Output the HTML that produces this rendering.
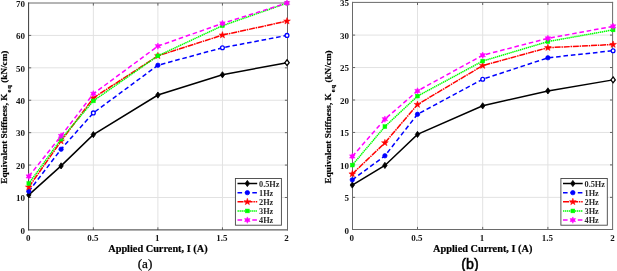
<!DOCTYPE html>
<html><head><meta charset="utf-8"><style>
html,body{margin:0;padding:0;background:#fff;}
body{width:617px;height:271px;overflow:hidden;}
svg{display:block;will-change:transform;}
.t{font-family:"Liberation Serif",serif;font-weight:bold;font-size:9.0px;fill:#151515;}
</style></head><body>
<svg width="617" height="271" viewBox="0 0 617 271">
<rect width="617" height="271" fill="#fff"/>
<path d="M93.35,3.0V229.9M157.90,3.0V229.9M222.45,3.0V229.9M28.6,197.49H287.5M28.6,165.07H287.5M28.6,132.66H287.5M28.6,100.24H287.5M28.6,67.83H287.5M28.6,35.42H287.5" stroke="#e2e2e2" stroke-width="1" fill="none"/>
<path d="M93.35,229.9v-2.6M93.35,3.0v2.6M157.90,229.9v-2.6M157.90,3.0v2.6M222.45,229.9v-2.6M222.45,3.0v2.6M28.6,197.49h2.6M287.5,197.49h-2.6M28.6,165.07h2.6M287.5,165.07h-2.6M28.6,132.66h2.6M287.5,132.66h-2.6M28.6,100.24h2.6M287.5,100.24h-2.6M28.6,67.83h2.6M287.5,67.83h-2.6M28.6,35.42h2.6M287.5,35.42h-2.6" stroke="#555" stroke-width="0.9" fill="none"/>
<path d="M28.10,3.00H288.00" fill="none" stroke="#6a6a6a" stroke-width="1"/>
<path d="M28.10,229.90H288.00" fill="none" stroke="#3a3a3a" stroke-width="1"/>
<path d="M28.60,2.50V230.40" fill="none" stroke="#3a3a3a" stroke-width="1"/>
<path d="M287.50,2.50V230.40" fill="none" stroke="#686868" stroke-width="1"/>
<polyline points="28.80,194.89 61.08,165.88 93.35,134.60 157.90,95.06 222.45,74.80 287.00,62.64" fill="none" stroke="#000000" stroke-width="1.5"/>
<path d="M28.80,191.79 L31.00,194.89 L28.80,197.99 L26.60,194.89Z" fill="#000000" stroke="#000000" stroke-width="0.8"/>
<path d="M61.08,162.78 L63.28,165.88 L61.08,168.98 L58.88,165.88Z" fill="#000000" stroke="#000000" stroke-width="0.8"/>
<path d="M93.35,131.50 L95.55,134.60 L93.35,137.70 L91.15,134.60Z" fill="#000000" stroke="#000000" stroke-width="0.8"/>
<path d="M157.90,91.96 L160.10,95.06 L157.90,98.16 L155.70,95.06Z" fill="#000000" stroke="#000000" stroke-width="0.8"/>
<path d="M222.45,71.70 L224.65,74.80 L222.45,77.90 L220.25,74.80Z" fill="#000000" stroke="#000000" stroke-width="0.8"/>
<path d="M287.00,59.74 L289.20,62.64 L287.00,65.54 L284.80,62.64Z" fill="#fff" stroke="#000000" stroke-width="1.3"/>
<polyline points="28.80,191.33 61.08,149.19 93.35,112.89 157.90,65.24 222.45,47.73 287.00,35.42" fill="none" stroke="#0000ff" stroke-width="1.5" stroke-dasharray="4.6 2.8"/>
<circle cx="28.80" cy="191.33" r="2.2" fill="#0000ff" stroke="#0000ff" stroke-width="0.7"/>
<circle cx="61.08" cy="149.19" r="2.2" fill="#0000ff" stroke="#0000ff" stroke-width="0.7"/>
<circle cx="93.35" cy="112.89" r="1.9" fill="#fff" stroke="#0000ff" stroke-width="1.3"/>
<circle cx="157.90" cy="65.24" r="2.2" fill="#0000ff" stroke="#0000ff" stroke-width="0.7"/>
<circle cx="222.45" cy="47.73" r="1.9" fill="#fff" stroke="#0000ff" stroke-width="1.3"/>
<circle cx="287.00" cy="35.42" r="1.9" fill="#fff" stroke="#0000ff" stroke-width="1.3"/>
<polyline points="28.80,187.11 61.08,141.09 93.35,97.98 157.90,55.84 222.45,35.09 287.00,21.15" fill="none" stroke="#ff0000" stroke-width="1.5" stroke-dasharray="6 0.8 1.5 0.8"/>
<path d="M28.80,183.56 L29.65,185.94 L32.18,186.02 L30.18,187.56 L30.89,189.99 L28.80,188.56 L26.71,189.99 L27.42,187.56 L25.42,186.02 L27.95,185.94Z" fill="#ff0000" stroke="#ff0000" stroke-width="0.5"/>
<path d="M61.08,137.54 L61.93,139.91 L64.45,139.99 L62.45,141.53 L63.16,143.96 L61.08,142.54 L58.99,143.96 L59.70,141.53 L57.70,139.99 L60.22,139.91Z" fill="#ff0000" stroke="#ff0000" stroke-width="0.5"/>
<path d="M93.35,94.43 L94.20,96.80 L96.73,96.88 L94.73,98.42 L95.44,100.85 L93.35,99.43 L91.26,100.85 L91.97,98.42 L89.97,96.88 L92.50,96.80Z" fill="#ff0000" stroke="#ff0000" stroke-width="0.5"/>
<path d="M157.90,52.29 L158.75,54.66 L161.28,54.74 L159.28,56.28 L159.99,58.71 L157.90,57.29 L155.81,58.71 L156.52,56.28 L154.52,54.74 L157.05,54.66Z" fill="#ff0000" stroke="#ff0000" stroke-width="0.5"/>
<path d="M222.45,31.54 L223.30,33.92 L225.83,33.99 L223.83,35.54 L224.54,37.96 L222.45,36.54 L220.36,37.96 L221.07,35.54 L219.07,33.99 L221.60,33.92Z" fill="#ff0000" stroke="#ff0000" stroke-width="0.5"/>
<path d="M287.00,17.60 L287.85,19.98 L290.38,20.06 L288.38,21.60 L289.09,24.03 L287.00,22.60 L284.91,24.03 L285.62,21.60 L283.62,20.06 L286.15,19.98Z" fill="#ff0000" stroke="#ff0000" stroke-width="0.5"/>
<polyline points="28.80,183.55 61.08,139.14 93.35,100.89 157.90,55.84 222.45,25.69 287.00,3.16" fill="none" stroke="#00ff00" stroke-width="1.5" stroke-dasharray="1.4 0.6"/>
<rect x="26.90" y="181.65" width="3.80" height="3.80" fill="#00ff00" stroke="#00ff00" stroke-width="0.5"/>
<rect x="59.18" y="137.24" width="3.80" height="3.80" fill="#00ff00" stroke="#00ff00" stroke-width="0.5"/>
<rect x="91.45" y="98.99" width="3.80" height="3.80" fill="#00ff00" stroke="#00ff00" stroke-width="0.5"/>
<rect x="156.00" y="53.94" width="3.80" height="3.80" fill="#00ff00" stroke="#00ff00" stroke-width="0.5"/>
<rect x="220.55" y="23.79" width="3.80" height="3.80" fill="#00ff00" stroke="#00ff00" stroke-width="0.5"/>
<rect x="285.10" y="1.26" width="3.80" height="3.80" fill="#00ff00" stroke="#00ff00" stroke-width="0.5"/>
<polyline points="28.80,176.42 61.08,135.90 93.35,93.76 157.90,46.11 222.45,23.42 287.00,3.00" fill="none" stroke="#ff00ff" stroke-width="1.5" stroke-dasharray="4.6 2.8"/>
<path d="M28.80,173.22 L29.65,174.94 L31.57,174.82 L30.50,176.42 L31.57,178.02 L29.65,177.89 L28.80,179.62 L27.95,177.89 L26.03,178.02 L27.10,176.42 L26.03,174.82 L27.95,174.94Z" fill="#ff00ff" stroke="#ff00ff" stroke-width="0.5"/>
<path d="M61.08,132.70 L61.93,134.43 L63.85,134.30 L62.78,135.90 L63.85,137.50 L61.93,137.37 L61.08,139.10 L60.23,137.37 L58.30,137.50 L59.38,135.90 L58.30,134.30 L60.23,134.43Z" fill="#ff00ff" stroke="#ff00ff" stroke-width="0.5"/>
<path d="M93.35,90.56 L94.20,92.29 L96.12,92.16 L95.05,93.76 L96.12,95.36 L94.20,95.23 L93.35,96.96 L92.50,95.23 L90.58,95.36 L91.65,93.76 L90.58,92.16 L92.50,92.29Z" fill="#ff00ff" stroke="#ff00ff" stroke-width="0.5"/>
<path d="M157.90,42.91 L158.75,44.64 L160.67,44.51 L159.60,46.11 L160.67,47.71 L158.75,47.58 L157.90,49.31 L157.05,47.58 L155.13,47.71 L156.20,46.11 L155.13,44.51 L157.05,44.64Z" fill="#ff00ff" stroke="#ff00ff" stroke-width="0.5"/>
<path d="M222.45,20.22 L223.30,21.95 L225.22,21.82 L224.15,23.42 L225.22,25.02 L223.30,24.90 L222.45,26.62 L221.60,24.90 L219.68,25.02 L220.75,23.42 L219.68,21.82 L221.60,21.95Z" fill="#ff00ff" stroke="#ff00ff" stroke-width="0.5"/>
<path d="M287.00,-0.20 L287.85,1.53 L289.77,1.40 L288.70,3.00 L289.77,4.60 L287.85,4.47 L287.00,6.20 L286.15,4.47 L284.23,4.60 L285.30,3.00 L284.23,1.40 L286.15,1.53Z" fill="#ff00ff" stroke="#ff00ff" stroke-width="0.5"/>
<text x="25.00" y="233.60" text-anchor="end" class="t">0</text>
<text x="25.00" y="201.19" text-anchor="end" class="t">10</text>
<text x="25.00" y="168.77" text-anchor="end" class="t">20</text>
<text x="25.00" y="136.36" text-anchor="end" class="t">30</text>
<text x="25.00" y="103.94" text-anchor="end" class="t">40</text>
<text x="25.00" y="71.53" text-anchor="end" class="t">50</text>
<text x="25.00" y="39.12" text-anchor="end" class="t">60</text>
<text x="25.00" y="6.70" text-anchor="end" class="t">70</text>
<text x="28.20" y="240.9" text-anchor="middle" class="t">0</text>
<text x="92.75" y="240.9" text-anchor="middle" class="t">0.5</text>
<text x="157.30" y="240.9" text-anchor="middle" class="t">1</text>
<text x="221.85" y="240.9" text-anchor="middle" class="t">1.5</text>
<text x="286.40" y="240.9" text-anchor="middle" class="t">2</text>
<text x="157.90" y="252" text-anchor="middle" class="t" style="font-size:10.3px;fill:#000;stroke:#000;stroke-width:0.2px">Applied Current, I (A)</text>
<text transform="translate(7.00,117.15) rotate(-90)" text-anchor="middle" class="t" style="font-size:9.2px;fill:#000;stroke:#000;stroke-width:0.2px">Equivalent Stiffness, K<tspan dx="1.2" dy="3.7" font-size="6.6" letter-spacing="0.7">eq</tspan><tspan dy="-3.7" dx="-0.7"> (kN/cm)</tspan></text>
<text x="145.00" y="268.40" text-anchor="middle" style="font-family:'Liberation Serif', serif;font-size:13.2px;font-weight:normal;stroke:#000;stroke-width:0.25px">(a)</text>
<rect x="235.40" y="178.50" width="46.00" height="46.70" fill="#fff" stroke="#444" stroke-width="0.9"/>
<path d="M237.50,183.50H257.20" stroke="#000000" stroke-width="1.5" fill="none"/>
<path d="M247.35,180.40 L249.55,183.50 L247.35,186.60 L245.15,183.50Z" fill="#000000" stroke="#000000" stroke-width="0.8"/>
<text x="259.00" y="186.80" class="t" style="font-size:8.3px;fill:#2a2a2a">0.5Hz</text>
<path d="M237.50,192.65H257.20" stroke="#0000ff" stroke-width="1.5" stroke-dasharray="4.6 2.8" fill="none"/>
<circle cx="247.35" cy="192.65" r="2.2" fill="#0000ff" stroke="#0000ff" stroke-width="0.7"/>
<text x="259.00" y="195.95" class="t" style="font-size:8.3px;fill:#2a2a2a">1Hz</text>
<path d="M237.50,201.80H257.20" stroke="#ff0000" stroke-width="1.5" stroke-dasharray="6 0.8 1.5 0.8" fill="none"/>
<path d="M247.35,198.25 L248.20,200.63 L250.73,200.70 L248.73,202.25 L249.44,204.67 L247.35,203.25 L245.26,204.67 L245.97,202.25 L243.97,200.70 L246.50,200.63Z" fill="#ff0000" stroke="#ff0000" stroke-width="0.5"/>
<text x="259.00" y="205.10" class="t" style="font-size:8.3px;fill:#2a2a2a">2Hz</text>
<path d="M237.50,210.95H257.20" stroke="#00ff00" stroke-width="1.5" stroke-dasharray="1.4 0.6" fill="none"/>
<rect x="245.45" y="209.05" width="3.80" height="3.80" fill="#00ff00" stroke="#00ff00" stroke-width="0.5"/>
<text x="259.00" y="214.25" class="t" style="font-size:8.3px;fill:#2a2a2a">3Hz</text>
<path d="M237.50,220.10H257.20" stroke="#ff00ff" stroke-width="1.5" stroke-dasharray="4.6 2.8" fill="none"/>
<path d="M247.35,216.90 L248.20,218.63 L250.12,218.50 L249.05,220.10 L250.12,221.70 L248.20,221.57 L247.35,223.30 L246.50,221.57 L244.58,221.70 L245.65,220.10 L244.58,218.50 L246.50,218.63Z" fill="#ff00ff" stroke="#ff00ff" stroke-width="0.5"/>
<text x="259.00" y="223.40" class="t" style="font-size:8.3px;fill:#2a2a2a">4Hz</text>
<path d="M417.50,2.4V229.5M482.70,2.4V229.5M547.90,2.4V229.5M352.5,197.35H612.6M352.5,164.90H612.6M352.5,132.45H612.6M352.5,100.00H612.6M352.5,67.55H612.6M352.5,35.10H612.6" stroke="#e2e2e2" stroke-width="1" fill="none"/>
<path d="M417.50,229.5v-2.6M417.50,2.4v2.6M482.70,229.5v-2.6M482.70,2.4v2.6M547.90,229.5v-2.6M547.90,2.4v2.6M352.5,197.35h2.6M612.6,197.35h-2.6M352.5,164.90h2.6M612.6,164.90h-2.6M352.5,132.45h2.6M612.6,132.45h-2.6M352.5,100.00h2.6M612.6,100.00h-2.6M352.5,67.55h2.6M612.6,67.55h-2.6M352.5,35.10h2.6M612.6,35.10h-2.6" stroke="#555" stroke-width="0.9" fill="none"/>
<path d="M352.00,2.40H613.10" fill="none" stroke="#6a6a6a" stroke-width="1"/>
<path d="M352.00,229.50H613.10" fill="none" stroke="#6a6a6a" stroke-width="1"/>
<path d="M352.50,1.90V230.00" fill="none" stroke="#6a6a6a" stroke-width="1"/>
<path d="M612.60,1.90V230.00" fill="none" stroke="#6a6a6a" stroke-width="1"/>
<polyline points="352.30,185.02 384.90,165.42 417.50,134.40 482.70,105.84 547.90,90.91 613.10,79.88" fill="none" stroke="#000000" stroke-width="1.5"/>
<path d="M352.30,181.92 L354.50,185.02 L352.30,188.12 L350.10,185.02Z" fill="#000000" stroke="#000000" stroke-width="0.8"/>
<path d="M384.90,162.32 L387.10,165.42 L384.90,168.52 L382.70,165.42Z" fill="#000000" stroke="#000000" stroke-width="0.8"/>
<path d="M417.50,131.30 L419.70,134.40 L417.50,137.50 L415.30,134.40Z" fill="#000000" stroke="#000000" stroke-width="0.8"/>
<path d="M482.70,102.74 L484.90,105.84 L482.70,108.94 L480.50,105.84Z" fill="#000000" stroke="#000000" stroke-width="0.8"/>
<path d="M547.90,87.81 L550.10,90.91 L547.90,94.01 L545.70,90.91Z" fill="#000000" stroke="#000000" stroke-width="0.8"/>
<path d="M613.10,76.98 L615.30,79.88 L613.10,82.78 L610.90,79.88Z" fill="#fff" stroke="#000000" stroke-width="1.3"/>
<polyline points="352.30,179.83 384.90,155.81 417.50,114.28 482.70,79.23 547.90,57.81 613.10,50.68" fill="none" stroke="#0000ff" stroke-width="1.5" stroke-dasharray="4.6 2.8"/>
<circle cx="352.30" cy="179.83" r="2.2" fill="#0000ff" stroke="#0000ff" stroke-width="0.7"/>
<circle cx="384.90" cy="155.81" r="2.2" fill="#0000ff" stroke="#0000ff" stroke-width="0.7"/>
<circle cx="417.50" cy="114.28" r="2.2" fill="#0000ff" stroke="#0000ff" stroke-width="0.7"/>
<circle cx="482.70" cy="79.23" r="1.9" fill="#fff" stroke="#0000ff" stroke-width="1.3"/>
<circle cx="547.90" cy="57.81" r="2.2" fill="#0000ff" stroke="#0000ff" stroke-width="0.7"/>
<circle cx="613.10" cy="50.68" r="1.9" fill="#fff" stroke="#0000ff" stroke-width="1.3"/>
<polyline points="352.30,173.99 384.90,142.83 417.50,104.54 482.70,65.60 547.90,47.69 613.10,44.51" fill="none" stroke="#ff0000" stroke-width="1.5" stroke-dasharray="6 0.8 1.5 0.8"/>
<path d="M352.30,170.44 L353.15,172.81 L355.68,172.89 L353.68,174.43 L354.39,176.86 L352.30,175.44 L350.21,176.86 L350.92,174.43 L348.92,172.89 L351.45,172.81Z" fill="#ff0000" stroke="#ff0000" stroke-width="0.5"/>
<path d="M384.90,139.28 L385.75,141.66 L388.28,141.74 L386.28,143.28 L386.99,145.71 L384.90,144.28 L382.81,145.71 L383.52,143.28 L381.52,141.74 L384.05,141.66Z" fill="#ff0000" stroke="#ff0000" stroke-width="0.5"/>
<path d="M417.50,100.99 L418.35,103.37 L420.88,103.45 L418.88,104.99 L419.59,107.42 L417.50,105.99 L415.41,107.42 L416.12,104.99 L414.12,103.45 L416.65,103.37Z" fill="#ff0000" stroke="#ff0000" stroke-width="0.5"/>
<path d="M482.70,62.05 L483.55,64.43 L486.08,64.51 L484.08,66.05 L484.79,68.48 L482.70,67.05 L480.61,68.48 L481.32,66.05 L479.32,64.51 L481.85,64.43Z" fill="#ff0000" stroke="#ff0000" stroke-width="0.5"/>
<path d="M547.90,44.14 L548.75,46.52 L551.28,46.59 L549.28,48.14 L549.99,50.56 L547.90,49.14 L545.81,50.56 L546.52,48.14 L544.52,46.59 L547.05,46.52Z" fill="#ff0000" stroke="#ff0000" stroke-width="0.5"/>
<path d="M613.10,40.96 L613.95,43.34 L616.48,43.41 L614.48,44.96 L615.19,47.38 L613.10,45.96 L611.01,47.38 L611.72,44.96 L609.72,43.41 L612.25,43.34Z" fill="#ff0000" stroke="#ff0000" stroke-width="0.5"/>
<polyline points="352.30,165.09 384.90,126.61 417.50,96.11 482.70,61.06 547.90,41.59 613.10,29.91" fill="none" stroke="#00ff00" stroke-width="1.5" stroke-dasharray="1.4 0.6"/>
<rect x="350.40" y="163.19" width="3.80" height="3.80" fill="#00ff00" stroke="#00ff00" stroke-width="0.5"/>
<rect x="383.00" y="124.71" width="3.80" height="3.80" fill="#00ff00" stroke="#00ff00" stroke-width="0.5"/>
<rect x="415.60" y="94.21" width="3.80" height="3.80" fill="#00ff00" stroke="#00ff00" stroke-width="0.5"/>
<rect x="480.80" y="59.16" width="3.80" height="3.80" fill="#00ff00" stroke="#00ff00" stroke-width="0.5"/>
<rect x="546.00" y="39.69" width="3.80" height="3.80" fill="#00ff00" stroke="#00ff00" stroke-width="0.5"/>
<rect x="611.20" y="28.01" width="3.80" height="3.80" fill="#00ff00" stroke="#00ff00" stroke-width="0.5"/>
<polyline points="352.30,156.46 384.90,119.15 417.50,90.91 482.70,55.22 547.90,38.34 613.10,26.34" fill="none" stroke="#ff00ff" stroke-width="1.5" stroke-dasharray="4.6 2.8"/>
<path d="M352.30,153.26 L353.15,154.99 L355.07,154.86 L354.00,156.46 L355.07,158.06 L353.15,157.94 L352.30,159.66 L351.45,157.94 L349.53,158.06 L350.60,156.46 L349.53,154.86 L351.45,154.99Z" fill="#ff00ff" stroke="#ff00ff" stroke-width="0.5"/>
<path d="M384.90,115.95 L385.75,117.67 L387.67,117.55 L386.60,119.15 L387.67,120.75 L385.75,120.62 L384.90,122.35 L384.05,120.62 L382.13,120.75 L383.20,119.15 L382.13,117.55 L384.05,117.67Z" fill="#ff00ff" stroke="#ff00ff" stroke-width="0.5"/>
<path d="M417.50,87.71 L418.35,89.44 L420.27,89.31 L419.20,90.91 L420.27,92.51 L418.35,92.39 L417.50,94.11 L416.65,92.39 L414.73,92.51 L415.80,90.91 L414.73,89.31 L416.65,89.44Z" fill="#ff00ff" stroke="#ff00ff" stroke-width="0.5"/>
<path d="M482.70,52.02 L483.55,53.75 L485.47,53.62 L484.40,55.22 L485.47,56.82 L483.55,56.69 L482.70,58.42 L481.85,56.69 L479.93,56.82 L481.00,55.22 L479.93,53.62 L481.85,53.75Z" fill="#ff00ff" stroke="#ff00ff" stroke-width="0.5"/>
<path d="M547.90,35.14 L548.75,36.87 L550.67,36.74 L549.60,38.34 L550.67,39.95 L548.75,39.82 L547.90,41.55 L547.05,39.82 L545.13,39.95 L546.20,38.34 L545.13,36.74 L547.05,36.87Z" fill="#ff00ff" stroke="#ff00ff" stroke-width="0.5"/>
<path d="M613.10,23.14 L613.95,24.87 L615.87,24.74 L614.80,26.34 L615.87,27.94 L613.95,27.81 L613.10,29.54 L612.25,27.81 L610.33,27.94 L611.40,26.34 L610.33,24.74 L612.25,24.87Z" fill="#ff00ff" stroke="#ff00ff" stroke-width="0.5"/>
<text x="348.90" y="233.50" text-anchor="end" class="t">0</text>
<text x="348.90" y="201.05" text-anchor="end" class="t">5</text>
<text x="348.90" y="168.60" text-anchor="end" class="t">10</text>
<text x="348.90" y="136.15" text-anchor="end" class="t">15</text>
<text x="348.90" y="103.70" text-anchor="end" class="t">20</text>
<text x="348.90" y="71.25" text-anchor="end" class="t">25</text>
<text x="348.90" y="38.80" text-anchor="end" class="t">30</text>
<text x="348.90" y="6.35" text-anchor="end" class="t">35</text>
<text x="351.70" y="240.9" text-anchor="middle" class="t">0</text>
<text x="416.90" y="240.9" text-anchor="middle" class="t">0.5</text>
<text x="482.10" y="240.9" text-anchor="middle" class="t">1</text>
<text x="547.30" y="240.9" text-anchor="middle" class="t">1.5</text>
<text x="612.50" y="240.9" text-anchor="middle" class="t">2</text>
<text x="482.70" y="252" text-anchor="middle" class="t" style="font-size:10.3px;fill:#000;stroke:#000;stroke-width:0.2px">Applied Current, I (A)</text>
<text transform="translate(330.80,116.93) rotate(-90)" text-anchor="middle" class="t" style="font-size:9.2px;fill:#000;stroke:#000;stroke-width:0.2px">Equivalent Stiffness, K<tspan dx="1.2" dy="3.7" font-size="6.6" letter-spacing="0.7">eq</tspan><tspan dy="-3.7" dx="-0.7"> (kN/cm)</tspan></text>
<text x="470.00" y="268.60" text-anchor="middle" style="font-family:'Liberation Sans', sans-serif;font-size:14.2px;font-weight:normal;stroke:#000;stroke-width:0.5px">(b)</text>
<rect x="560.90" y="178.50" width="46.40" height="46.70" fill="#fff" stroke="#444" stroke-width="0.9"/>
<path d="M563.00,183.50H582.70" stroke="#000000" stroke-width="1.5" fill="none"/>
<path d="M572.85,180.40 L575.05,183.50 L572.85,186.60 L570.65,183.50Z" fill="#000000" stroke="#000000" stroke-width="0.8"/>
<text x="584.50" y="186.80" class="t" style="font-size:8.3px;fill:#2a2a2a">0.5Hz</text>
<path d="M563.00,192.65H582.70" stroke="#0000ff" stroke-width="1.5" stroke-dasharray="4.6 2.8" fill="none"/>
<circle cx="572.85" cy="192.65" r="2.2" fill="#0000ff" stroke="#0000ff" stroke-width="0.7"/>
<text x="584.50" y="195.95" class="t" style="font-size:8.3px;fill:#2a2a2a">1Hz</text>
<path d="M563.00,201.80H582.70" stroke="#ff0000" stroke-width="1.5" stroke-dasharray="6 0.8 1.5 0.8" fill="none"/>
<path d="M572.85,198.25 L573.70,200.63 L576.23,200.70 L574.23,202.25 L574.94,204.67 L572.85,203.25 L570.76,204.67 L571.47,202.25 L569.47,200.70 L572.00,200.63Z" fill="#ff0000" stroke="#ff0000" stroke-width="0.5"/>
<text x="584.50" y="205.10" class="t" style="font-size:8.3px;fill:#2a2a2a">2Hz</text>
<path d="M563.00,210.95H582.70" stroke="#00ff00" stroke-width="1.5" stroke-dasharray="1.4 0.6" fill="none"/>
<rect x="570.95" y="209.05" width="3.80" height="3.80" fill="#00ff00" stroke="#00ff00" stroke-width="0.5"/>
<text x="584.50" y="214.25" class="t" style="font-size:8.3px;fill:#2a2a2a">3Hz</text>
<path d="M563.00,220.10H582.70" stroke="#ff00ff" stroke-width="1.5" stroke-dasharray="4.6 2.8" fill="none"/>
<path d="M572.85,216.90 L573.70,218.63 L575.62,218.50 L574.55,220.10 L575.62,221.70 L573.70,221.57 L572.85,223.30 L572.00,221.57 L570.08,221.70 L571.15,220.10 L570.08,218.50 L572.00,218.63Z" fill="#ff00ff" stroke="#ff00ff" stroke-width="0.5"/>
<text x="584.50" y="223.40" class="t" style="font-size:8.3px;fill:#2a2a2a">4Hz</text>
</svg>
</body></html>
